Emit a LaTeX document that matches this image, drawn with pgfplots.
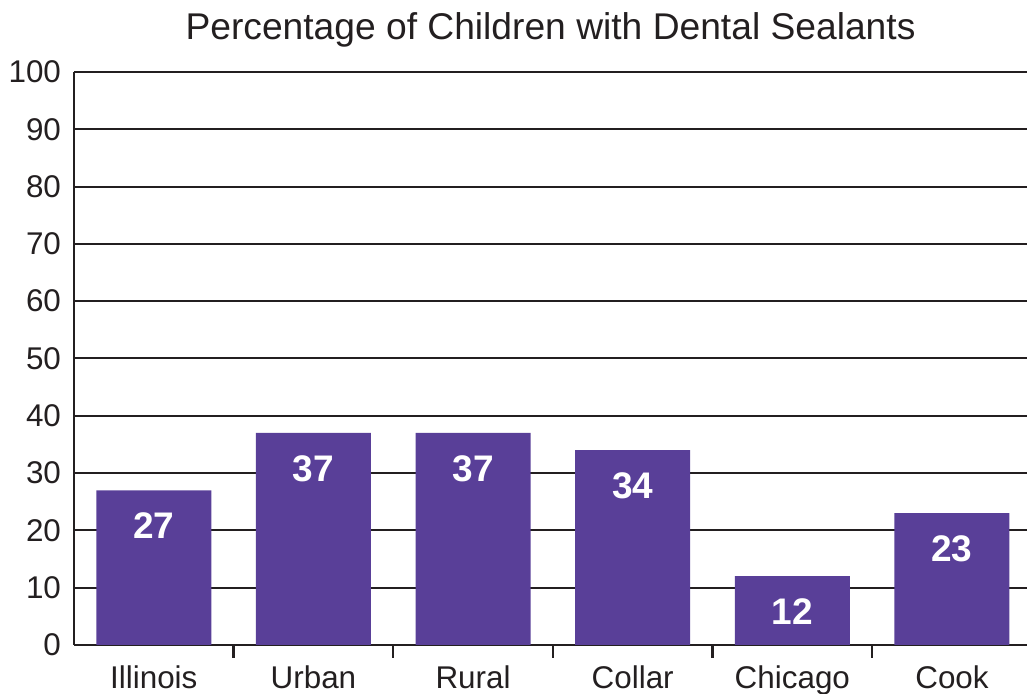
\documentclass[border=0pt]{standalone}
\usepackage{fontspec}
\setmainfont{Liberation Sans}
\usepackage{pgfplots}
\pgfplotsset{compat=1.18}
\usetikzlibrary{calc}
\definecolor{barpurple}{RGB}{89,63,152}
\definecolor{ink}{RGB}{35,31,32}
\begin{document}
\begin{tikzpicture}
\begin{axis}[
    scale only axis,
    width=476.5pt, height=286.5pt,
    xmin=-0.5, xmax=5.47,
    ymin=0, ymax=100,
    ytick={0,10,...,100},
    xtick={0,...,5},
    xticklabels={Illinois,Urban,Rural,Collar,Chicago,Cook},
    minor xtick={0.5,1.5,...,4.5},
    major tick length=0pt,
    minor tick length=6.5pt,
    tick align=inside,
    every minor tick/.style={ink, line width=1.2pt},
    axis x line*=bottom,
    axis y line*=left,
    axis line style={ink, line width=1.4pt, -},
    ymajorgrids,
    grid style={ink, line width=1pt},
    /pgf/number format/assume math mode=true,
    tick label style={font=\fontsize{15.7}{18}\selectfont, text=ink},
    yticklabel style={xshift=-3pt},
    xticklabel style={yshift=-7pt},
    title={Percentage of Children with Dental Sealants},
    title style={at={(0.5,1)}, anchor=base, yshift=10pt, font=\fontsize{18.6}{22}\selectfont, text=ink},
    ybar,
    bar width=57.5pt,
    nodes near coords,
    every node near coord/.append style={anchor=north, yshift=-7.9pt, font=\fontsize{18.5}{20}\selectfont\bfseries, text=white},
]
\addplot[fill=barpurple, draw=none] coordinates {
    (0,27) (1,37) (2,37) (3,34) (4,12) (5,23)
};
\coordinate (bl) at (rel axis cs:0,0);
\coordinate (tr) at (rel axis cs:1,1);
\end{axis}
\pgfresetboundingbox
\path[use as bounding box] ($(bl)+(-37pt,-24.5pt)$) rectangle ($(tr)+(0pt,36pt)$);
\end{tikzpicture}
\end{document}
